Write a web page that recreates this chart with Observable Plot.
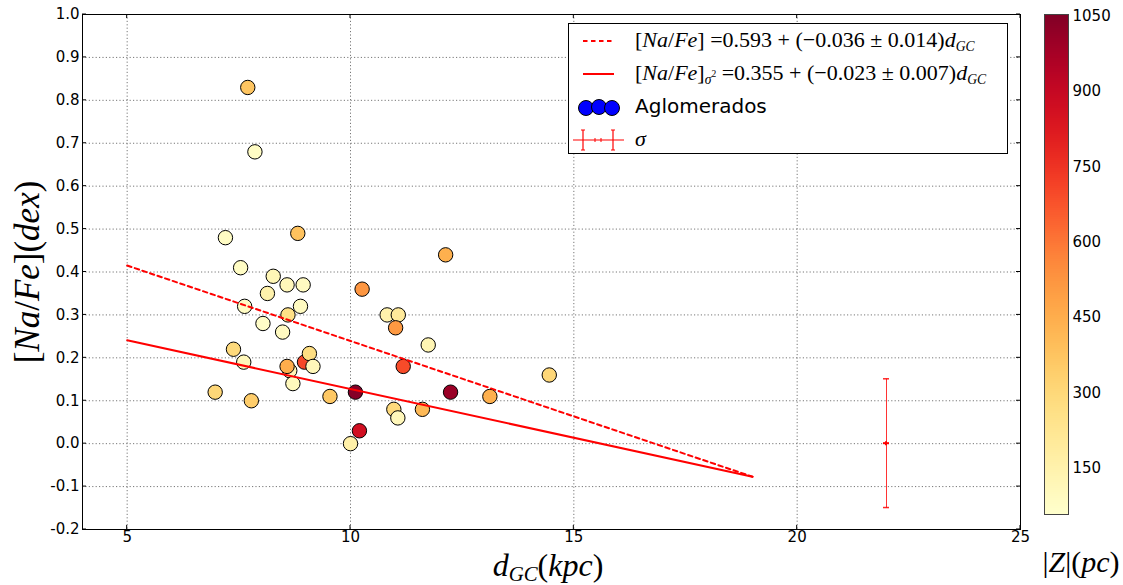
<!DOCTYPE html>
<html>
<head>
<meta charset="utf-8">
<script src="https://cdn.jsdelivr.net/npm/d3@7"></script>
<script src="https://cdn.jsdelivr.net/npm/@observablehq/plot@0.6"></script>
<style>
  body { margin: 0; background: white; }
  #wrap { position: relative; width: 1123px; height: 585px; overflow: hidden; background: white; }
  #main, #cbar { position: absolute; top: 0; }
  #main { left: 0; }
  #cbar { left: 1040px; }
  .math { font-family: "Liberation Serif", "DejaVu Serif", serif; color: black; position: absolute; white-space: nowrap; line-height: 1; }
  .math i { font-style: italic; }
  .math sub { font-size: 65%; vertical-align: baseline; position: relative; top: 0.22em; }
  #legend { position: absolute; left: 568px; top: 23px; width: 440px; height: 131px; border: 1px solid black; background: white; box-sizing: border-box; }
  #legend .row { position: absolute; left: 0; height: 32px; width: 100%; }
  #legend svg { position: absolute; left: 0; top: 0; }
  #legend .txt { position: absolute; left: 66px; top: 2px; font-size: 22px; line-height: 1.2; font-family: "Liberation Serif", serif; white-space: nowrap; }
  #legend .txt i { font-style: italic; }
  #legend .txt sub { font-size: 62%; vertical-align: baseline; position: relative; top: 0.3em; font-style: italic; }
  #legend .txt sub sup { font-size: 70%; vertical-align: baseline; position: relative; top: -0.7em; font-style: normal; }
</style>
</head>
<body>
<div id="wrap">
  <div id="main"></div>
  <div id="cbar"></div>
  <div class="math" id="ylab" style="font-size:35px; left:27px; top:272px; transform: translate(-50%,-50%) rotate(-90deg);">[<i>Na</i>/<i>Fe</i>](<i>dex</i>)</div>
  <div class="math" id="xlab" style="font-size:32px; left:548px; top:565px; transform: translate(-50%,-50%);"><i>d</i><sub><i>GC</i></sub>(<i>kpc</i>)</div>
  <div class="math" id="zlab" style="font-size:30px; left:1081px; top:562px; transform: translate(-50%,-50%);">|<i>Z</i>|(<i>pc</i>)</div>
  <div id="legend"></div>
</div>
<script>
// ---- data ----
const dGC = [7.70, 7.86, 7.20, 8.82, 12.13, 7.54, 8.27, 8.58, 8.94, 8.14,
             10.26, 7.63, 8.88, 8.60, 10.82, 11.07, 11.01, 8.04, 8.48, 11.74,
             7.38, 7.61, 8.97, 9.08, 9.16, 8.64, 8.58, 8.71, 6.97, 7.78,
             9.54, 10.11, 12.24, 13.12, 14.45, 11.18, 10.97, 11.06, 11.61, 10.20,
             10.00];
const naFe = [0.83, 0.68, 0.48, 0.49, 0.44, 0.41, 0.39, 0.37, 0.37, 0.35,
              0.36, 0.32, 0.32, 0.30, 0.30, 0.30, 0.27, 0.28, 0.26, 0.23,
              0.22, 0.19, 0.19, 0.21, 0.18, 0.17, 0.18, 0.14, 0.12, 0.10,
              0.11, 0.12, 0.12, 0.11, 0.16, 0.18, 0.08, 0.06, 0.08, 0.03,
              0.00];
const zAbs = [370, 80, 80, 380, 440, 80, 120, 110, 90, 150,
              520, 80, 90, 260, 150, 200, 510, 70, 90, 130,
              290, 110, 700, 270, 110, 120, 450, 100, 300, 340,
              360, 1040, 1000, 440, 300, 690, 290, 110, 410, 860,
              160];

// fit lines (read endpoints)
const fitNames = ["dashed", "solid"];
const fitX0 = [5, 5];
const fitX1 = [19, 19];
const fitY0 = [0.415, 0.241];
const fitY1 = [-0.077, -0.077];

// typical error bar
const sigmaX = [22];
const sigmaY = [0];
const sigmaErr = [0.15];

const xTicks = [5, 10, 15, 20, 25];
const yTicks = [-0.2, -0.1, 0.0, 0.1, 0.2, 0.3, 0.4, 0.5, 0.6, 0.7, 0.8, 0.9, 1.0];
const zTicks = [150, 300, 450, 600, 750, 900, 1050];
const zDomain = [58, 1053];

// ---- build tables ----
const clusters = dGC.map((d, i) => ({x: d, y: naFe[i], z: zAbs[i]}));
const fits = [];
fitNames.forEach((n, i) => {
  fits.push({fit: n, x: fitX0[i], y: fitY0[i]});
  fits.push({fit: n, x: fitX1[i], y: fitY1[i]});
});
const sig = sigmaX.map((x, i) => ({x, y: sigmaY[i], lo: sigmaY[i] - sigmaErr[i], hi: sigmaY[i] + sigmaErr[i]}));

const fmtY = d => (Math.abs(d) < 1e-9 ? 0 : d).toFixed(1);
const gridStyle = {stroke: "#777", strokeOpacity: 1, strokeDasharray: "1.2,2.2", strokeWidth: 1};

const main = Plot.plot({
  width: 1123, height: 585,
  marginLeft: 82, marginRight: 103, marginTop: 14, marginBottom: 56,
  x: {type: "linear", domain: [4, 25]},
  y: {type: "linear", domain: [-0.2, 1.0]},
  color: {type: "linear", scheme: "ylorrd", domain: zDomain},
  style: {fontFamily: "DejaVu Sans, sans-serif", fontSize: "15px", background: "white", color: "black"},
  marks: [
    Plot.gridX(xTicks, gridStyle),
    Plot.gridY(yTicks, gridStyle),
    Plot.axisX(xTicks, {tickSize: 0, tickPadding: 2, label: null, tickFormat: d => String(d), fontSize: 15}),
    Plot.axisY(yTicks, {tickSize: 0, tickPadding: 3, label: null, tickFormat: fmtY, fontSize: 15}),
    Plot.dot(clusters, {x: "x", y: "y", fill: "z", r: 7.2, stroke: "black", strokeWidth: 1}),
    Plot.line(fits.filter(d => d.fit === "dashed"), {x: "x", y: "y", stroke: "red", strokeWidth: 2, strokeDasharray: "4.5,3.5"}),
    Plot.line(fits.filter(d => d.fit === "solid"), {x: "x", y: "y", stroke: "red", strokeWidth: 2}),
    Plot.ruleX(sig, {x: "x", y1: "lo", y2: "hi", stroke: "red", strokeOpacity: 0.8, strokeWidth: 1}),
    Plot.frame({stroke: "black", strokeWidth: 1})
  ]
});
document.getElementById("main").appendChild(main);

// error-bar caps, centre marker and matplotlib-style inner ticks, placed through the plot's scales
(function addDetails() {
  const sx = main.scale("x"), sy = main.scale("y");
  const g = d3.select(main).append("g");
  sig.forEach(d => {
    const x = sx.apply(d.x);
    [d.lo, d.hi].forEach(v => {
      g.append("line").attr("x1", x - 3).attr("x2", x + 3).attr("y1", sy.apply(v)).attr("y2", sy.apply(v)).attr("stroke", "red").attr("stroke-width", 1.5).attr("stroke-opacity", 0.85);
    });
    const y = sy.apply(d.y);
    g.append("line").attr("x1", x - 3).attr("x2", x + 3).attr("y1", y).attr("y2", y).attr("stroke", "red").attr("stroke-width", 2);
    g.append("line").attr("x1", x).attr("x2", x).attr("y1", y - 2).attr("y2", y + 2).attr("stroke", "red").attr("stroke-width", 2);
  });
  const x0 = sx.apply(4), x1 = sx.apply(25), yb = sy.apply(-0.2), yt = sy.apply(1.0);
  yTicks.forEach(v => {
    const y = sy.apply(v);
    g.append("line").attr("x1", x0).attr("x2", x0 + 4).attr("y1", y).attr("y2", y).attr("stroke", "black");
    g.append("line").attr("x1", x1 - 4).attr("x2", x1).attr("y1", y).attr("y2", y).attr("stroke", "black");
  });
  xTicks.forEach(v => {
    const x = sx.apply(v);
    g.append("line").attr("x1", x).attr("x2", x).attr("y1", yb).attr("y2", yb - 4).attr("stroke", "black");
    g.append("line").attr("x1", x).attr("x2", x).attr("y1", yt).attr("y2", yt + 4).attr("stroke", "black");
  });
})();

// ---- colorbar ----
const steps = d3.range(zDomain[0], zDomain[1], 4).map(v => ({v, v2: Math.min(v + 4.5, zDomain[1])}));
const cbar = Plot.plot({
  width: 83, height: 585,
  marginLeft: 4, marginRight: 55, marginTop: 14, marginBottom: 71,
  x: {type: "linear", domain: [0, 1], axis: null},
  y: {type: "linear", domain: zDomain},
  color: {type: "linear", scheme: "ylorrd", domain: zDomain},
  style: {fontFamily: "DejaVu Sans, sans-serif", fontSize: "15px", background: "transparent", color: "black"},
  marks: [
    Plot.rect(steps, {x1: 0, x2: 1, y1: "v", y2: "v2", fill: "v", shapeRendering: "crispEdges"}),
    Plot.axisY(zTicks, {anchor: "right", tickSize: 0, tickPadding: 4, label: null, tickFormat: d => String(d), fontSize: 15}),
    Plot.frame({stroke: "#444", strokeWidth: 1})
  ]
});
document.getElementById("cbar").appendChild(cbar);

// ---- legend ----
const legendRows = [
  {kind: "dashed", html: "[<i>Na</i>/<i>Fe</i>] =0.593 + (−0.036 ± 0.014)<i>d</i><sub>GC</sub>"},
  {kind: "solid", html: "[<i>Na</i>/<i>Fe</i>]<sub>σ<sup>2</sup></sub> =0.355 + (−0.023 ± 0.007)<i>d</i><sub>GC</sub>"},
  {kind: "dots", html: "<span style='font-family:DejaVu Sans, sans-serif; font-size:20px'>Aglomerados</span>"},
  {kind: "err", html: "<i>σ</i>"}
];
const leg = document.getElementById("legend");
legendRows.forEach((r, i) => {
  const row = document.createElement("div");
  row.className = "row";
  row.style.top = (1 + i * 33) + "px";
  let s = "";
  if (r.kind === "dashed") s = `<line x1="14" x2="45" y1="16" y2="16" stroke="red" stroke-width="2" stroke-dasharray="4.5,3.5"/>`;
  if (r.kind === "solid") s = `<line x1="14" x2="45" y1="16" y2="16" stroke="red" stroke-width="2"/>`;
  if (r.kind === "dots") s = [17, 30, 43].map(cx => `<circle cx="${cx}" cy="${17 + (cx === 30 ? -1 : 0)}" r="7.5" fill="#0000ff" stroke="black" stroke-width="1"/>`).join("");
  if (r.kind === "err") s = `<line x1="4" x2="55" y1="16" y2="16" stroke="red" stroke-width="1.2"/>` +
      [14, 44].map(x => `<line x1="${x}" x2="${x}" y1="6" y2="26" stroke="red" stroke-width="1.2"/><line x1="${x-2}" x2="${x+2}" y1="6" y2="6" stroke="red"/><line x1="${x-2}" x2="${x+2}" y1="26" y2="26" stroke="red"/>`).join("") +
      [26, 32].map(x => `<line x1="${x}" x2="${x}" y1="14" y2="18" stroke="red" stroke-width="1"/>`).join("");
  row.innerHTML = `<svg width="64" height="32">${s}</svg><div class="txt">${r.html}</div>`;
  leg.appendChild(row);
});
</script>
</body>
</html>
